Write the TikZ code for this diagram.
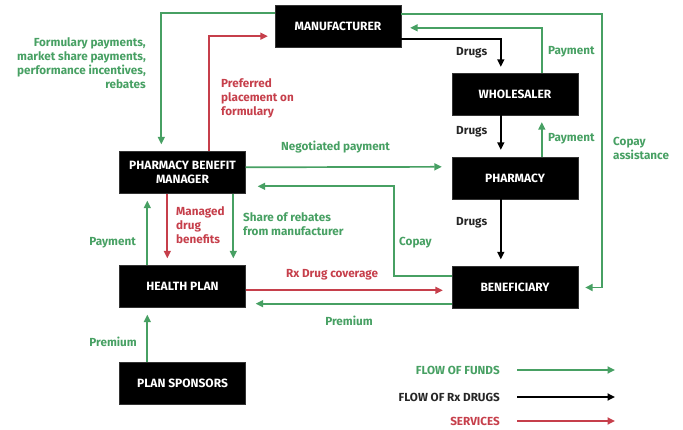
\documentclass[tikz,border=0pt]{standalone}
\usepackage{fontspec}
\setmainfont{Fira Sans}
\usetikzlibrary{arrows.meta,calc}
\definecolor{fundgreen}{HTML}{47A063}
\definecolor{servred}{HTML}{C63F4B}
\begin{document}
\begin{tikzpicture}[x=1pt,y=-1pt,
  box/.style={fill=black,draw=black!80,minimum width=126pt,minimum height=42pt,
    inner sep=0pt,align=center,text=white,font=\fontsize{12}{13.5}\selectfont\bfseries},
  lbl/.style={inner sep=0pt,font=\fontsize{11.7}{14}\selectfont\bfseries},
  glbl/.style={lbl,text=fundgreen},
  rlbl/.style={lbl,text=servred},
  klbl/.style={lbl,text=black!85},
  flow/.style={line width=1.7pt,-{Triangle[length=7.5pt,width=7pt]},shorten >=7pt},
  funds/.style={flow,draw=fundgreen},
  drugs/.style={flow,draw=black},
  serv/.style={flow,draw=servred}]
\useasboundingbox (0,0) rectangle (683,430);

% entities
\node[box] (man) at (338,26) {MANUFACTURER};
\node[box] (whl) at (515,94) {WHOLESALER};
\node[box] (pha) at (515,178) {PHARMACY};
\node[box] (ben) at (515,287.5) {BENEFICIARY};
\node[box] (pbm) at (182.5,172.5) {PHARMACY BENEFIT\\MANAGER};
\node[box] (hp) at (182.5,286.5) {HEALTH PLAN};
\node[box] (ps) at (182.5,383) {PLAN SPONSORS};

% manufacturer links
\draw[funds] ($(man.north west)+(0,8)$) -| ($(pbm.north west)+(42,0)$);
\draw[serv] ($(pbm.north west)+(90,0)$) |- ($(man.south west)+(0,-11)$);
\draw[funds] ($(man.north east)+(0,9)$) -- ++(201,0) |- (ben.east);
\draw[funds,shorten >=9pt] ($(whl.north west)+(90,0)$) |- ($(man.north east)+(0,23)$);
\draw[drugs,shorten >=6pt] ($(man.south east)+(0,-8)$) -| ($(whl.north west)+(49,0)$);

% supply chain
\draw[drugs] ($(whl.south west)+(49,0)$) -- ($(pha.north west)+(49,0)$);
\draw[funds] ($(pha.north west)+(90,0)$) -- ($(whl.south west)+(90,0)$);
\draw[drugs] ($(pha.south west)+(49,0)$) -- ($(ben.north west)+(49,0)$);

% PBM and beneficiary links
\draw[funds,shorten >=10pt] ($(pbm.north east)+(0,16)$) -- ($(pha.north west)+(0,10)$);
\draw[funds,shorten >=12pt] ($(ben.north west)+(0,10)$) -- ++(-58,0) |- ($(pbm.north east)+(0,35)$);
\draw[serv,shorten >=9pt] ($(hp.north east)+(0,25)$) -- ($(ben.north west)+(0,24)$);
\draw[funds,shorten >=10pt] ($(ben.south west)+(0,-5)$) -- ($(hp.south east)+(0,-4)$);

% PBM and health plan links
\draw[funds] ($(hp.north west)+(28,0)$) -- ($(pbm.south west)+(28,0)$);
\draw[serv] ($(pbm.south west)+(48,0)$) -- ($(hp.north west)+(48,0)$);
\draw[funds] ($(pbm.south west)+(114,0)$) -- ($(hp.north west)+(114,0)$);
\draw[funds] ($(ps.north west)+(28,0)$) -- ($(hp.south west)+(28,0)$);

% labels
\node[glbl,align=right,anchor=east] (l1) at (146,63) {Formulary payments,\\market share payments,\\performance incentives,\\rebates};
\node[rlbl,align=left,anchor=west] (l2) at (221,98) {Preferred\\placement on\\formulary};
\node[glbl,anchor=west] (l3) at (281,147) {Negotiated payment};
\node[klbl,anchor=west] (l4) at (456,53) {Drugs};
\node[klbl,anchor=west] (l5) at (456,132) {Drugs};
\node[klbl,anchor=west] (l6) at (456,223) {Drugs};
\node[glbl,anchor=west] (l7) at (548,52) {Payment};
\node[glbl,anchor=west] (l8) at (548,139) {Payment};
\node[glbl,align=left,anchor=west] (l9) at (613,148) {Copay\\assistance};
\node[rlbl,align=left,anchor=west] (l10) at (176,225) {Managed\\drug\\benefits};
\node[glbl,align=left,anchor=west] (l11) at (243,224) {Share of rebates\\from manufacturer};
\node[glbl,anchor=east] (l12) at (136,243) {Payment};
\node[glbl,anchor=west] (l13) at (399,243) {Copay};
\node[rlbl] (l14) at (332,275) {Rx Drug coverage};
\node[glbl] (l15) at (349,321) {Premium};
\node[glbl,anchor=east] (l16) at (137,342) {Premium};

% legend
\node[glbl,anchor=east] (k1) at (500,370) {FLOW OF FUNDS};
\node[klbl,anchor=east] (k2) at (500,397) {FLOW OF Rx DRUGS};
\node[rlbl,anchor=east] (k3) at (500,421) {SERVICES};
\coordinate (k1a) at (517,370); \coordinate (k1b) at (620,370);
\coordinate (k2a) at (517,397); \coordinate (k2b) at (620,397);
\coordinate (k3a) at (517,421); \coordinate (k3b) at (620,421);
\draw[funds,shorten >=5pt] (k1a) -- (k1b);
\draw[drugs,shorten >=5pt] (k2a) -- (k2b);
\draw[serv,shorten >=5pt] (k3a) -- (k3b);
\end{tikzpicture}
\end{document}
